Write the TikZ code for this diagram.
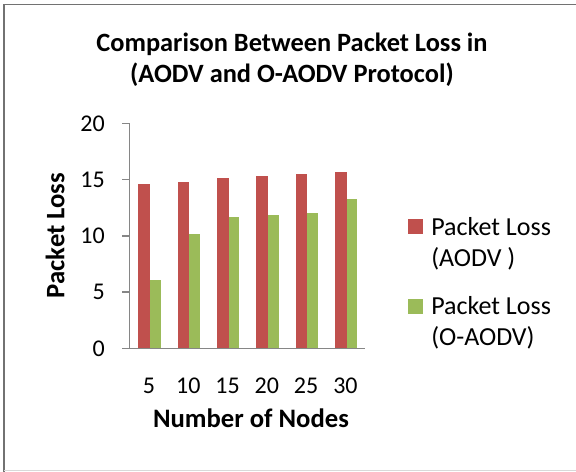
\documentclass[tikz,border=0pt]{standalone}
\usepackage{fontspec}
\setmainfont{Carlito}
\definecolor{lossred}{HTML}{C0504D}
\definecolor{lossgreen}{HTML}{9BBB59}
\definecolor{axisgray}{HTML}{868686}
\begin{document}
\begin{tikzpicture}[x=0.75pt, y=-0.75pt,
    lbl/.style={inner sep=0pt},
    ticklbl/.style={lbl, font=\fontsize{18}{21}\selectfont},
    keytext/.style={lbl, anchor=base west, align=left, font=\fontsize{19.5}{23}\selectfont},
    keybox/.style={draw=none, minimum size=11.25pt, inner sep=0pt},
    axistitle/.style={lbl, font=\bfseries\fontsize{20}{24}\selectfont}]
    \useasboundingbox (0,0) rectangle (576,472);
    \fill[white] (0,0) rectangle (576,472);
    \draw[axisgray!85!black, line width=1.3pt] (4,472) -- (4,4.5) -- (576,4.5);
    \draw[black!15, line width=0.8pt] (4,470.5) -- (576,470.5);
    \node[lbl, anchor=base, align=center, font=\bfseries\fontsize{19.8}{23.2}\selectfont] (title) at (292,82) {Comparison Between Packet Loss in\\(AODV and O-AODV Protocol)};
    \coordinate (O) at (129.3,348.3); \coordinate (X) at (365,348.3); \coordinate (Y) at (129.3,123.3);
    \foreach \i/\n/\r/\g in {1/5/14.6/6.1, 2/10/14.8/10.2, 3/15/15.1/11.7, 4/20/15.3/11.85, 5/25/15.5/12.0, 6/30/15.7/13.3} {
        \fill[lossred] (129.3+39.3*\i-30.3,348.3) rectangle (129.3+39.3*\i-18.6,348.3-11.25*\r);
        \fill[lossgreen] (129.3+39.3*\i-18.6,348.3) rectangle (129.3+39.3*\i-7.9,348.3-11.25*\g);
        \node[ticklbl, anchor=base] (xt\i) at (129.3+39.3*\i-19.65,393) {\n};
    }
    \draw[axisgray, line width=1.1pt] (Y) -- (O) -- (X);
    \draw[axisgray, line width=1.1pt] (O) -- ++(-7.6,0);
    \foreach \k/\v in {1/5, 2/10, 3/15, 4/20}
        \draw[axisgray, line width=1.1pt] (129.3,348.3-56.25*\k) -- ++(-7.6,0);
    \foreach \k/\v in {0/0, 1/5, 2/10, 3/15, 4/20}
        \node[ticklbl, anchor=east] (yt\k) at (105,348.3-56.25*\k) {\v};
    \node[axistitle, anchor=base] (xtitle) at (251,427) {Number of Nodes};
    \node[axistitle, rotate=90] (ytitle) at (55,235.5) {Packet Loss};
    \node[keybox, fill=lossred] (keyaodv) at (415.5,226.5) {};
    \node[keytext] (textaodv) at (431,266.5) {Packet Loss\\(AODV )};
    \node[keybox, fill=lossgreen] (keyoaodv) at (415.5,306.5) {};
    \node[keytext] (textoaodv) at (431,345.5) {Packet Loss\\(O-AODV)};
\end{tikzpicture}
\end{document}
